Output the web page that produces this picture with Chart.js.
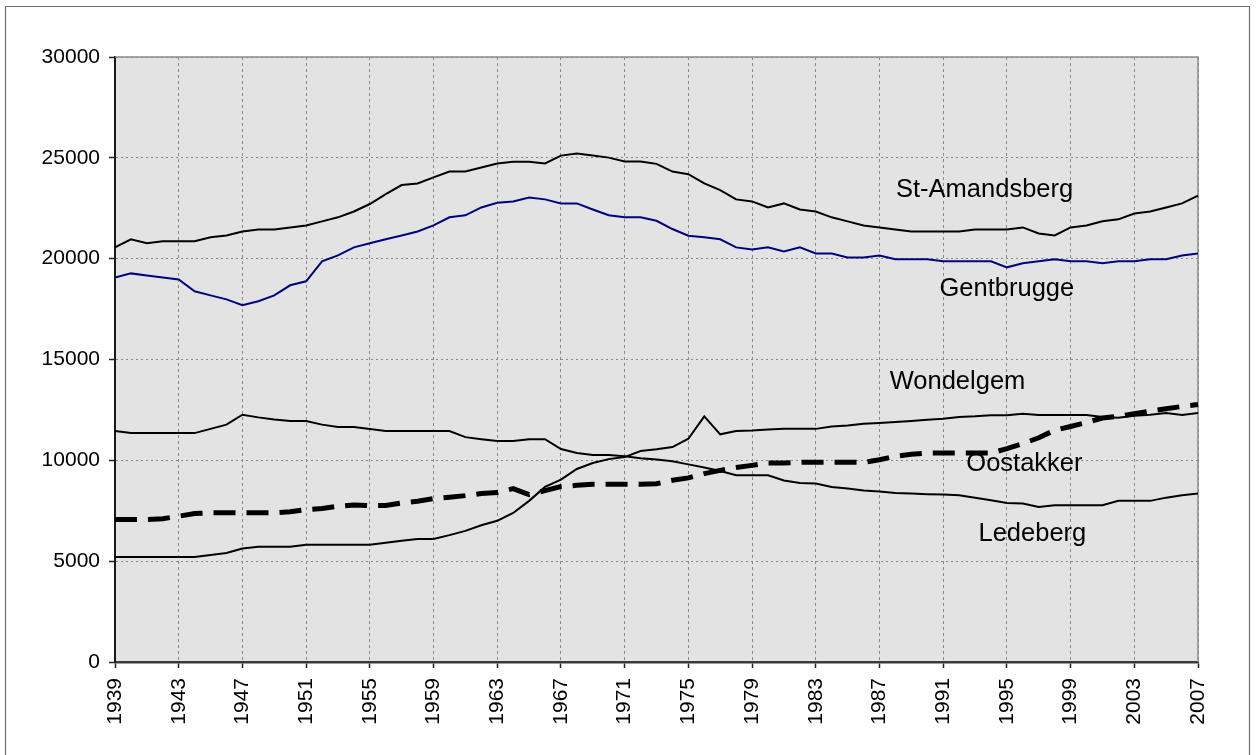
<!DOCTYPE html>
<html>
<head>
<meta charset="utf-8">
<script src="https://cdn.jsdelivr.net/npm/chart.js@4/dist/chart.umd.min.js"></script>
<style>
  html, body { margin: 0; padding: 0; background: #fff; }
  #wrap { width: 1257px; height: 755px; position: relative; }
</style>
</head>
<body>
<div id="wrap"><canvas id="popChart"></canvas></div>
<script>
// years on the category axis
var years = [1939, 1940, 1941, 1942, 1943, 1944, 1945, 1946, 1947, 1948,
             1949, 1950, 1951, 1952, 1953, 1954, 1955, 1956, 1957, 1958,
             1959, 1960, 1961, 1962, 1963, 1964, 1965, 1966, 1967, 1968,
             1969, 1970, 1971, 1972, 1973, 1974, 1975, 1976, 1977, 1978,
             1979, 1980, 1981, 1982, 1983, 1984, 1985, 1986, 1987, 1988,
             1989, 1990, 1991, 1992, 1993, 1994, 1995, 1996, 1997, 1998,
             1999, 2000, 2001, 2002, 2003, 2004, 2005, 2006, 2007];
var yearTicks = [1939, 1943, 1947, 1951, 1955, 1959, 1963, 1967, 1971,
                 1975, 1979, 1983, 1987, 1991, 1995, 1999, 2003, 2007];
var valueTicks = [0, 5000, 10000, 15000, 20000, 25000, 30000];

// population per deelgemeente
var stAmandsberg = [20560, 20960, 20760, 20860, 20860, 20860, 21060, 21150, 21350, 21450,
                    21450, 21550, 21650, 21850, 22050, 22340, 22710, 23200, 23650, 23730,
                    24030, 24320, 24320, 24520, 24720, 24800, 24800, 24720, 25110, 25210,
                    25110, 25010, 24820, 24820, 24700, 24320, 24190, 23730, 23400, 22940,
                    22840, 22540, 22740, 22440, 22340, 22050, 21850, 21650, 21550, 21450,
                    21350, 21350, 21350, 21350, 21450, 21450, 21450, 21550, 21250, 21150,
                    21550, 21650, 21850, 21950, 22240, 22340, 22540, 22740, 23120];
var gentbrugge = [19070, 19270, 19170, 19070, 18970, 18380, 18180, 17980, 17690, 17890,
                  18180, 18680, 18880, 19870, 20160, 20560, 20760, 20960, 21150, 21350,
                  21650, 22050, 22150, 22540, 22770, 22840, 23030, 22940, 22740, 22740,
                  22440, 22150, 22050, 22050, 21880, 21470, 21140, 21060, 20960, 20560,
                  20460, 20560, 20360, 20560, 20260, 20260, 20060, 20060, 20160, 19970,
                  19970, 19970, 19870, 19870, 19870, 19870, 19570, 19770, 19870, 19970,
                  19870, 19870, 19770, 19870, 19870, 19970, 19970, 20160, 20260];
var ledeberg = [11450, 11350, 11350, 11350, 11350, 11350, 11560, 11770, 12260, 12130,
                12030, 11950, 11950, 11770, 11650, 11650, 11550, 11450, 11450, 11450,
                11450, 11450, 11150, 11050, 10960, 10960, 11050, 11050, 10560, 10360,
                10260, 10260, 10200, 10100, 10040, 9950, 9800, 9640, 9470, 9260,
                9260, 9260, 9000, 8880, 8850, 8680, 8600, 8510, 8460, 8380,
                8350, 8320, 8300, 8270, 8150, 8020, 7890, 7860, 7690, 7770,
                7770, 7770, 7770, 7990, 7990, 7990, 8150, 8270, 8350];
var wondelgem = [5210, 5210, 5210, 5210, 5210, 5210, 5310, 5410, 5630, 5710,
                 5710, 5710, 5810, 5810, 5810, 5810, 5810, 5910, 6010, 6100,
                 6100, 6290, 6500, 6780, 7000, 7390, 7990, 8680, 9040, 9570,
                 9870, 10060, 10160, 10460, 10550, 10660, 11070, 12180, 11290, 11450,
                 11480, 11530, 11560, 11560, 11560, 11680, 11730, 11810, 11850, 11900,
                 11950, 12010, 12060, 12150, 12180, 12230, 12230, 12310, 12250, 12250,
                 12250, 12250, 12150, 12110, 12210, 12260, 12350, 12250, 12350];
var oostakker = [7060, 7060, 7060, 7100, 7230, 7360, 7400, 7400, 7400, 7400,
                 7400, 7450, 7560, 7610, 7720, 7790, 7760, 7760, 7890, 7970,
                 8100, 8170, 8250, 8350, 8400, 8600, 8300, 8500, 8700, 8760,
                 8810, 8810, 8810, 8810, 8840, 9010, 9130, 9340, 9500, 9640,
                 9750, 9870, 9870, 9900, 9900, 9900, 9900, 9900, 10030, 10200,
                 10300, 10360, 10360, 10360, 10360, 10360, 10580, 10830, 11120, 11490,
                 11680, 11880, 12100, 12180, 12310, 12440, 12560, 12670, 12770];

// names written inside the plot, anchored in data units
var seriesNames = ["St-Amandsberg", "Gentbrugge", "Wondelgem", "Oostakker", "Ledeberg"];
var nameYears = [1993.6, 1995.0, 1991.9, 1996.1, 1996.6];
var nameValues = [23035, 18170, 13550, 9470, 6005];

function pts(arr) {
  return arr.map(function (v, i) { return { x: years[i], y: v }; });
}

var FONT = "'Liberation Sans', Arial, sans-serif";

// grey plot area, frame and text labels
var decor = {
  id: 'decor',
  beforeDraw: function (chart) {
    var c = chart.ctx, a = chart.chartArea;
    c.save();
    c.fillStyle = '#e3e3e3';
    c.fillRect(a.left, a.top, a.right - a.left, a.bottom - a.top);
    c.strokeStyle = '#6e6e6e';
    c.lineWidth = 1.2;
    c.beginPath();
    c.moveTo(5.5, 770); c.lineTo(5.5, 6.5); c.lineTo(1249.5, 6.5); c.lineTo(1249.5, 770);
    c.stroke();
    c.restore();
  },
  beforeDatasetsDraw: function (chart) {
    var c = chart.ctx, a = chart.chartArea;
    var xs = chart.scales.x, ys = chart.scales.y;
    c.save();
    c.strokeStyle = '#8c8c8c';
    c.lineWidth = 1.5;
    c.beginPath();
    c.moveTo(a.left, a.top); c.lineTo(a.right, a.top); c.lineTo(a.right, a.bottom);
    c.stroke();
    c.fillStyle = '#000';
    c.font = '25.5px ' + FONT;
    c.textAlign = 'center';
    c.textBaseline = 'alphabetic';
    for (var i = 0; i < seriesNames.length; i++) {
      c.fillText(seriesNames[i], xs.getPixelForValue(nameYears[i]), ys.getPixelForValue(nameValues[i]));
    }
    c.restore();
  }
};

var ctx = document.getElementById('popChart').getContext('2d');
var popChart = new Chart(ctx, {
  type: 'line',
  data: {
    datasets: [
      { label: 'St-Amandsberg', data: pts(stAmandsberg), borderColor: '#000000', borderWidth: 2 },
      { label: 'Gentbrugge', data: pts(gentbrugge), borderColor: '#000080', borderWidth: 2 },
      { label: 'Ledeberg', data: pts(ledeberg), borderColor: '#000000', borderWidth: 2 },
      { label: 'Wondelgem', data: pts(wondelgem), borderColor: '#000000', borderWidth: 2 },
      { label: 'Oostakker', data: pts(oostakker), borderColor: '#000000', borderWidth: 5,
        borderDash: [22, 11], borderCapStyle: 'butt' }
    ]
  },
  options: {
    responsive: true,
    maintainAspectRatio: false,
    animation: false,
    elements: { point: { radius: 0 }, line: { tension: 0, fill: false } },
    layout: { padding: { left: 0, top: 57, right: 59, bottom: 0 } },
    plugins: { legend: { display: false }, tooltip: { enabled: false } },
    scales: {
      x: {
        type: 'linear',
        min: 1939,
        max: 2007,
        afterBuildTicks: function (scale) {
          scale.ticks = yearTicks.map(function (v) { return { value: v }; });
        },
        afterFit: function (scale) { scale.height = 93; },
        ticks: {
          autoSkip: false,
          minRotation: 90,
          maxRotation: 90,
          padding: 10,
          color: '#000',
          font: { family: FONT, size: 21 },
          callback: function (v) { return String(v); }
        },
        grid: {
          color: '#8a8a8a',
          lineWidth: 1,
          tickLength: 6,
          tickColor: '#222',
          tickWidth: 1.5,
          tickBorderDash: []
        },
        border: { display: true, color: '#3a3a3a', width: 2.5, dash: [3, 3] }
      },
      y: {
        min: 0,
        max: 30000,
        afterBuildTicks: function (scale) {
          scale.ticks = valueTicks.map(function (v) { return { value: v }; });
        },
        afterFit: function (scale) { scale.width = 115; },
        ticks: {
          padding: 9,
          color: '#000',
          font: { family: FONT, size: 21 },
          callback: function (v) { return String(v); }
        },
        grid: {
          color: '#8a8a8a',
          lineWidth: 1,
          tickLength: 6,
          tickColor: '#222',
          tickWidth: 1.5,
          tickBorderDash: []
        },
        border: { display: true, color: '#1a1a1a', width: 2, dash: [2, 3] }
      }
    }
  },
  plugins: [decor]
});
</script>
</body>
</html>
